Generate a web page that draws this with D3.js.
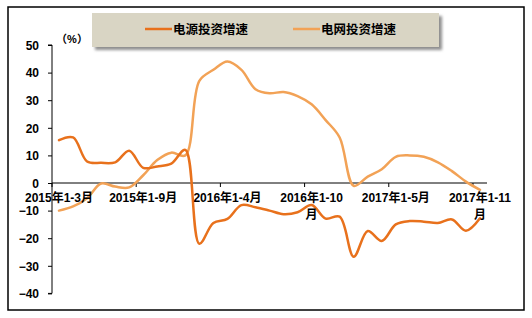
<!DOCTYPE html>
<html>
<head>
<meta charset="utf-8">
<script src="https://cdn.jsdelivr.net/npm/d3@7"></script>
<style>
  html, body { margin: 0; padding: 0; background: #fff; }
  svg { display: block; }
  text { font-family: "Liberation Sans", Arial, "Noto Sans CJK SC", sans-serif; font-weight: bold; }
</style>
</head>
<body>
<script>
const categories = [
  "2015年1-3月","2015年1-4月","2015年1-5月","2015年1-6月","2015年1-7月","2015年1-8月","2015年1-9月","2015年1-10月","2015年1-11月","2015年1-12月",
  "2016年1-2月","2016年1-3月","2016年1-4月","2016年1-5月","2016年1-6月","2016年1-7月","2016年1-8月","2016年1-9月","2016年1-10月","2016年1-11月","2016年1-12月",
  "2017年1-2月","2017年1-3月","2017年1-4月","2017年1-5月","2017年1-6月","2017年1-7月","2017年1-8月","2017年1-9月","2017年1-10月","2017年1-11月"
];
const powerSource = [15.5, 16.5, 7.8, 7.3, 7.5, 11.7, 5.5, 6.0, 7.0, 12.0,
  -22.0, -14.5, -13.0, -8.0, -8.8, -10.0, -11.3, -10.6, -8.0, -12.9, -12.2,
  -26.7, -17.4, -21.0, -15.0, -13.8, -14.0, -14.5, -13.2, -17.3, -12.8];
const powerGrid = [-10.0, -8.5, -5.5, -0.2, -1.3, -1.6, 2.8, 8.3, 11.0, 10.0,
  37.0, 41.0, 44.0, 41.0, 34.0, 32.5, 33.0, 31.5, 28.5, 22.8, 16.5,
  -1.0, 2.3, 5.0, 9.5, 10.0, 9.5, 7.5, 4.3, 0.5, -2.5];
const seriesNames = ["电源投资增速", "电网投资增速"];
const seriesColors = ["#E8711C", "#F2A256"];
const yTicks = [50, 40, 30, 20, 10, 0, -10, -20, -30, -40];
const xTickLabels = ["2015年1-3月","2015年1-9月","2016年1-4月","2016年1-10月","2017年1-5月","2017年1-11月"];
const unitLabel = "（%）";

const W = 532, H = 318;
const svg = d3.select("body").append("svg").attr("width", W).attr("height", H);

// outer border
svg.append("rect").attr("x", 8).attr("y", 7).attr("width", 516).attr("height", 303)
  .attr("fill", "#fff").attr("stroke", "#000").attr("stroke-width", 1.5);

const x = d3.scaleBand().domain(categories).range([52, 487]).padding(0);
const y = d3.scaleLinear().domain([-40, 50]).range([293.4, 45]);
const cx = c => x(c) + x.bandwidth() / 2;

// y axis
const yAxis = d3.axisLeft(y).tickValues(yTicks).tickSize(4).tickPadding(9).tickFormat(d3.format("d"));
const gy = svg.append("g").attr("transform", "translate(52,0)").call(yAxis);
gy.select(".domain").attr("stroke", "#000").attr("stroke-width", 1).attr("d", `M-4,${y(50)}H0V${y(-40)}H-4`);
gy.selectAll(".tick line").attr("stroke", "#000");
gy.selectAll(".tick text").attr("font-size", 12).attr("fill", "#000").attr("dy", "0.36em");

// unit label
svg.append("text").attr("x", 72).attr("y", 43).attr("text-anchor", "middle")
  .attr("font-size", 11).attr("fill", "#000").text(unitLabel);

// x axis line at zero
svg.append("line").attr("x1", 52).attr("x2", 487).attr("y1", y(0)).attr("y2", y(0))
  .attr("stroke", "#000").attr("stroke-width", 1);
// x tick marks every 6 categories
categories.forEach((c, i) => {
  if (i % 6 === 0) {
    svg.append("line").attr("x1", x(c)).attr("x2", x(c)).attr("y1", y(0)).attr("y2", y(0) + 4)
      .attr("stroke", "#000").attr("stroke-width", 1);
  }
});

// lines
const line = d3.line().x((d, i) => cx(categories[i])).y(d => y(d)).curve(d3.curveCatmullRom.alpha(0.5));
[powerGrid, powerSource].forEach((s, k) => {
  const col = k === 0 ? seriesColors[1] : seriesColors[0];
  svg.append("path").attr("d", line(s)).attr("fill", "none").attr("stroke", col)
    .attr("stroke-width", 2.5).attr("stroke-linejoin", "round").attr("stroke-linecap", "round");
});

// x labels
xTickLabels.forEach(lbl => {
  const c = categories.find(cc => cc === lbl);
  const px = cx(c);
  const t = svg.append("text").attr("x", px).attr("y", 202).attr("text-anchor", "middle")
    .attr("font-size", 12).attr("fill", "#000");
  if (lbl.length >= 10) {
    t.append("tspan").attr("x", px).text(lbl.slice(0, -1));
    t.append("tspan").attr("x", px).attr("dy", 17).text(lbl.slice(-1));
  } else {
    t.text(lbl);
  }
});

// legend
const defs = svg.append("defs");
const f = defs.append("filter").attr("id", "blur").attr("x", "-10%").attr("y", "-30%").attr("width", "120%").attr("height", "160%");
f.append("feGaussianBlur").attr("stdDeviation", 1.5);
svg.append("rect").attr("x", 95).attr("y", 16).attr("width", 347).attr("height", 34)
  .attr("fill", "#8f8f8f").attr("filter", "url(#blur)");
svg.append("rect").attr("x", 92).attr("y", 13).attr("width", 347).attr("height", 34)
  .attr("fill", "#d9d5c4");
const legX = [145, 293];
seriesNames.forEach((n, i) => {
  svg.append("line").attr("x1", legX[i]).attr("x2", legX[i] + 27).attr("y1", 29).attr("y2", 29)
    .attr("stroke", seriesColors[i]).attr("stroke-width", 2.5);
  svg.append("text").attr("x", legX[i] + 28).attr("y", 34).attr("font-size", 12.5)
    .attr("fill", "#000").text(n);
});
</script>
</body>
</html>
